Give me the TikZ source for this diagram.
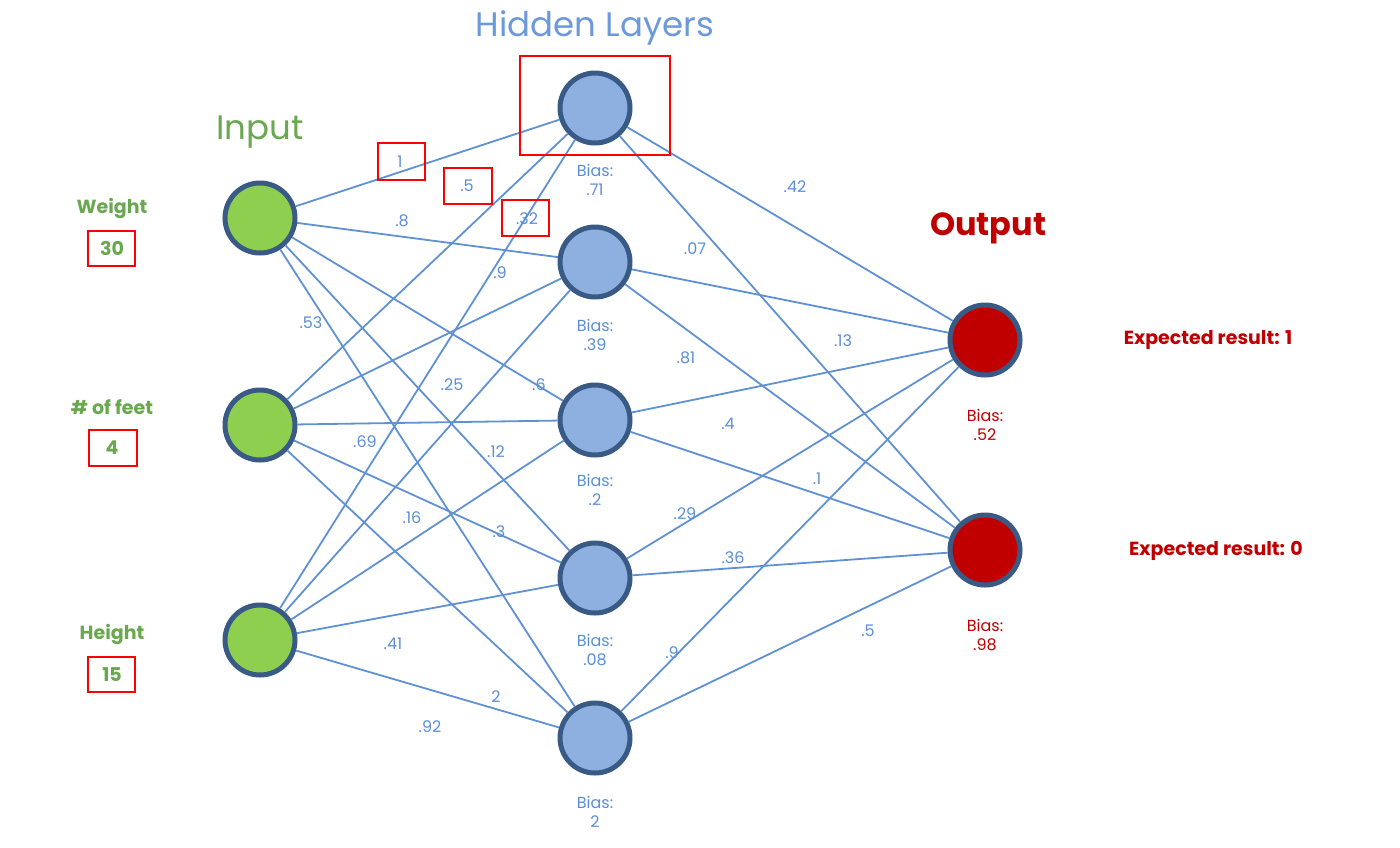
\documentclass[tikz,border=0pt]{standalone}
\usepackage{fontspec}
\setmainfont{Poppins}
\begin{document}
\definecolor{ln}{HTML}{5F91D3}
\definecolor{tb}{HTML}{5B8ED8}
\definecolor{gt}{HTML}{6AA84F}
\definecolor{rt}{HTML}{C00000}
\definecolor{ol}{HTML}{3A5A86}
\begin{tikzpicture}[x=1pt,y=-1pt,
 neu/.style={circle,draw=ol,line width=5pt,minimum size=70pt,inner sep=0pt},
 inp/.style={neu,fill={rgb,255:red,143;green,207;blue,80}},
 hid/.style={neu,fill={rgb,255:red,141;green,176;blue,224}},
 outn/.style={neu,fill=rt},
 edge/.style={ln,line width=1.8pt},
 wl/.style={text=tb,font=\fontsize{16}{16}\selectfont},
 bl/.style={text=tb,font=\fontsize{16}{19}\selectfont,align=center},
 rb/.style={draw=red,line width=1.8pt},
 gl/.style={text=gt,font=\fontsize{19}{19}\selectfont\bfseries}]
\useasboundingbox (0,0) rectangle (1400,847);
\node[inp] (i1) at (260,218) {};
\node[inp] (i2) at (260,425) {};
\node[inp] (i3) at (260,640) {};
\foreach \n/\y in {1/108,2/262,3/420,4/578,5/738} \node[hid] (h\n) at (595,\y) {};
\node[outn] (o1) at (985,340) {};
\node[outn] (o2) at (985,550) {};
\foreach \i in {1,2,3} \foreach \h in {1,...,5} \draw[edge] (i\i) -- (h\h);
\foreach \h in {1,...,5} \foreach \o in {1,2} \draw[edge] (h\h) -- (o\o);
% titles
\node[text=gt,font=\fontsize{34}{34}\selectfont] (tin) at (260,132) {Input};
\node[text=tb!90,font=\fontsize{34}{34}\selectfont] (thl) at (595,28) {Hidden Layers};
\node[text=rt,font=\fontsize{32}{32}\selectfont\bfseries] (tout) at (988,228) {Output};
% input labels
\node[gl] (lw) at (112,208) {Weight};
\node[gl] (vw) at (112,248) {30};
\node[gl] (lf) at (112,407) {\# of feet};
\node[gl] (vf) at (112,448) {4};
\node[gl] (lh) at (112,634) {Height};
\node[gl] (vh) at (112,675) {15};
\draw[rb] (88,231) rectangle (135,266);
\draw[rb] (89,430) rectangle (137,466);
\draw[rb] (88,657) rectangle (135,692);
% weights
\foreach \t/\x/\y in {1/400/162,.5/467/186,.32/527/219,.8/402/221,.9/500/273,.53/311/323,.25/452/385,.6/539/385,.69/365/442,.12/496/452,.16/412/518,.3/499/532,.41/393/644,2/496/697,.92/430/727,.42/795/187,.07/695/249,.13/843/341,.81/686/358,.4/728/424,.1/817/479,.29/685/514,.36/733/558,.9/672/653,.5/868/631}
  \node[wl] at (\x,\y) {\t};
\draw[rb] (378,143) rectangle (425,180);
\draw[rb] (444,168) rectangle (492,204);
\draw[rb] (502,200) rectangle (549,236);
\draw[rb] (520,56) rectangle (670,155);
% biases
\foreach \v/\y in {.71/180,.39/335,.2/490,.08/650,2/812} \node[bl] at (595,\y) {Bias:\\\v};
\node[bl,text=rt] (b1) at (985,425) {Bias:\\.52};
\node[bl,text=rt] (b2) at (985,635) {Bias:\\.98};
\node[text=rt,font=\fontsize{19}{19}\selectfont\bfseries] (e1) at (1208,340) {Expected result: 1};
\node[text=rt,font=\fontsize{19}{19}\selectfont\bfseries] (e2) at (1216,551) {Expected result: 0};
\end{tikzpicture}
\end{document}
